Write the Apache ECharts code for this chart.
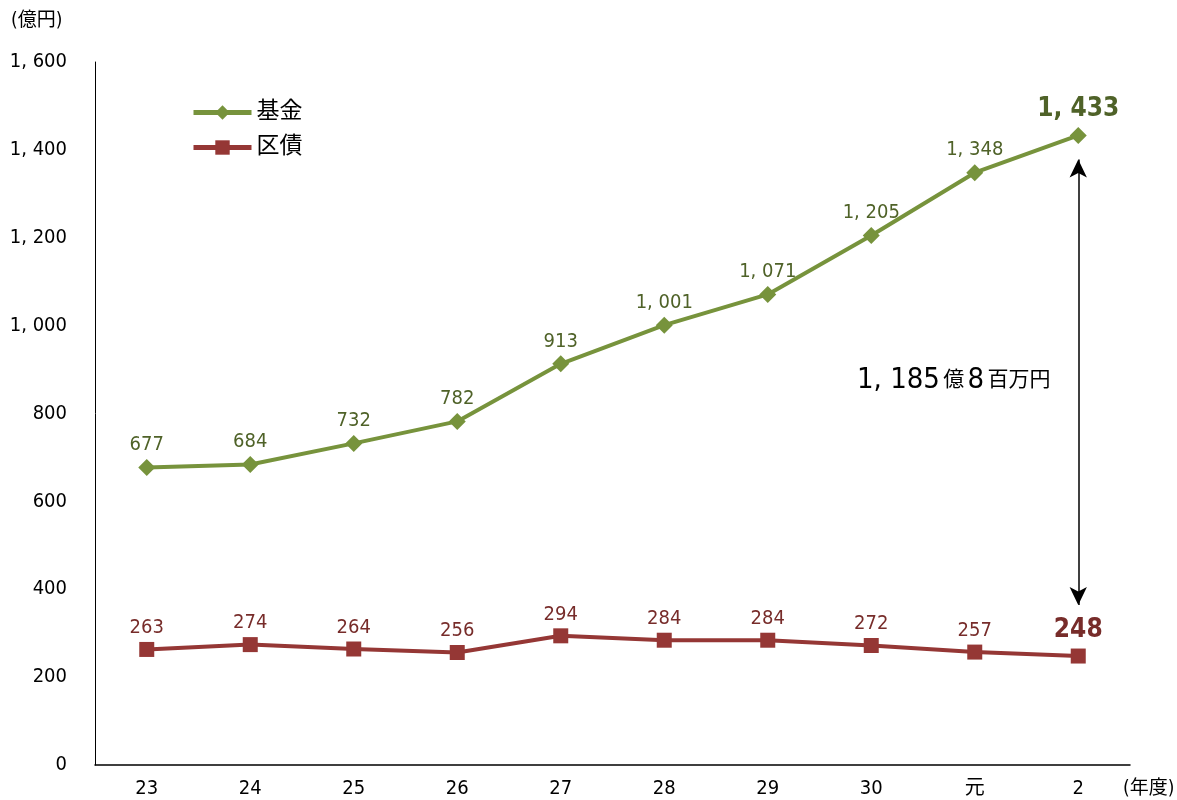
<!DOCTYPE html>
<html><head><meta charset="utf-8">
<script src="https://cdn.jsdelivr.net/npm/echarts@6/dist/echarts.min.js"></script>
<style>html,body{margin:0;padding:0;background:#fff}#c{width:1177px;height:800px}</style>
</head><body><div id="c"></div>
<script>
const categories = ['23','24','25','26','27','28','29','30','元','2'];
const kikin = [677,684,732,782,913,1001,1071,1205,1348,1433];
const kusai = [263,274,264,256,294,284,284,272,257,248];
const yTicks = [0,200,400,600,800,1000,1200,1400,1600];
const arrowFrom = 1378, arrowTo = 364;

const F = '"DejaVu Sans Condensed","Liberation Sans Narrow","Noto Sans CJK JP",sans-serif';
const green = '#77933C', red = '#953735';
const fmt = v => v >= 1000 ? Math.floor(v/1000) + ', ' + String(v%1000).padStart(3,'0') : String(v);

const chart = echarts.init(document.getElementById('c'));
chart.setOption({
  animation:false,
  textStyle:{fontFamily:F},
  grid:{left:95,right:47,top:62,bottom:35},
  legend:{orient:'vertical',left:186,top:96,itemWidth:58,itemHeight:18,itemGap:12,
    lineStyle:{width:5},
    textStyle:{fontSize:23,color:'#000',fontFamily:F},
    data:['基金','区債']},
  xAxis:{type:'category',data:categories,boundaryGap:true,
    axisLine:{lineStyle:{color:'#000',width:1.5}},axisTick:{show:false},
    axisLabel:{color:'#000',fontSize:20,margin:14,fontFamily:F}},
  yAxis:{type:'value',min:0,max:1600,interval:200,
    axisLine:{show:true,lineStyle:{color:'#000',width:1}},axisTick:{show:false},splitLine:{show:false},
    axisLabel:{color:'#000',fontSize:20,margin:28,fontFamily:F,formatter:v=>fmt(v)}},
  graphic:[
    {type:'text',left:11,top:12,style:{text:'(億円)',fontSize:19,fill:'#000',fontFamily:F}},
    {type:'text',left:1123,top:780,style:{text:'(年度)',fontSize:19,fill:'#000',fontFamily:F}},
    {type:'text',left:857,top:366,style:{rich:{a:{fontSize:29,fontFamily:F,fill:'#000'},b:{fontSize:21,fontFamily:F,fill:'#000'}},
      text:'{a|1, 185} {b|億} {a|8} {b|百万円}'}}
  ],
  series:[
    {name:'基金',type:'line',data:kikin,symbol:'diamond',symbolSize:17,
      lineStyle:{color:green,width:4},itemStyle:{color:green},
      label:{show:true,position:'top',distance:4,color:'#4F6228',fontSize:20,fontFamily:F,
        formatter:p=>fmt(p.value)},
      emphasis:{disabled:true},
      markLine:{silent:true,symbol:['arrow','arrow'],symbolSize:[13,18],
        lineStyle:{color:'#000',width:1.5,type:'solid'},label:{show:false},
        data:[[{coord:[9,arrowFrom]},{coord:[9,arrowTo]}]]}
    },
    {name:'区債',type:'line',data:kusai,symbol:'rect',symbolSize:15,
      lineStyle:{color:red,width:4},itemStyle:{color:red},
      label:{show:true,position:'top',distance:4,color:'#772C2A',fontSize:20,fontFamily:F,
        formatter:p=>fmt(p.value)},
      emphasis:{disabled:true}
    }
  ]
});
const opt = chart.getOption();
const big = {fontSize:26,fontWeight:'bold',distance:5};
const s0 = opt.series[0].data.map((v,i)=> i===9 ? {value:v,label:big} : v);
const s1 = opt.series[1].data.map((v,i)=> i===9 ? {value:v,label:big} : v);
chart.setOption({series:[{data:s0},{data:s1}]});
</script></body></html>
